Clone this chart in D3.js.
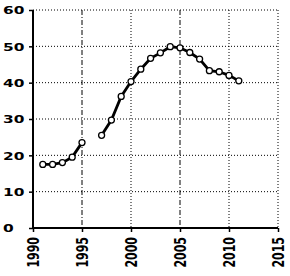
<!DOCTYPE html>
<html>
<head>
<meta charset="utf-8">
<script src="https://cdn.jsdelivr.net/npm/d3@7"></script>
<style>
  body { margin: 0; background: #fff; }
  svg text { font-family: "DejaVu Sans", sans-serif; font-weight: bold; font-size: 11px; fill: #000; }
</style>
</head>
<body>
<script>
const years1 = [1991, 1992, 1993, 1994, 1995];
const values1 = [17.5, 17.5, 18, 19.5, 23.5];
const years2 = [1997, 1998, 1999, 2000, 2001, 2002, 2003, 2004, 2005, 2006, 2007, 2008, 2009, 2010, 2011];
const values2 = [25.5, 29.7, 36.2, 40.3, 43.7, 46.7, 48.2, 49.9, 49.6, 48.3, 46.5, 43.3, 43, 42, 40.5];
const xTicks = [1990, 1995, 2000, 2005, 2010, 2015];
const yTicks = [0, 10, 20, 30, 40, 50, 60];

const w = 290;
const h = 276;

const svg = d3.select("body").append("svg").attr("width", w).attr("height", h);

const x = d3.scaleLinear().domain([1990, 2015]).range([33, 278]);
const y = d3.scaleLinear().domain([0, 60]).range([228, 10]);

// grid
svg.append("g")
  .selectAll("line")
  .data(yTicks.filter((d) => d > 0))
  .enter()
  .append("line")
  .attr("x1", x(1990))
  .attr("x2", x(2015))
  .attr("y1", (d) => y(d))
  .attr("y2", (d) => y(d))
  .attr("stroke", "#000")
  .attr("stroke-width", 1)
  .attr("stroke-dasharray", "1,2");

svg.append("g")
  .selectAll("line")
  .data(xTicks.filter((d) => d > 1990))
  .enter()
  .append("line")
  .attr("x1", (d) => x(d))
  .attr("x2", (d) => x(d))
  .attr("y1", y(60))
  .attr("y2", y(0))
  .attr("stroke", "#000")
  .attr("stroke-width", 1)
  .attr("stroke-dasharray", (d) => (d === 1995 || d === 2005 ? "5,2,1,2" : "1,2"));

// axes
const xAxis = d3.axisBottom(x).tickValues(xTicks).tickSize(4).tickFormat(d3.format("d"));
const yAxis = d3.axisLeft(y).tickValues(yTicks).tickSize(4);

const gx = svg.append("g").attr("transform", `translate(0, ${y(0)})`).call(xAxis);
const gy = svg.append("g").attr("transform", `translate(${x(1990)}, 0)`).call(yAxis);
[gx, gy].forEach((g) => {
  g.attr("font-family", null).attr("font-size", null);
  g.select(".domain").remove();
  g.selectAll(".tick line").attr("stroke", "#000").attr("stroke-width", 1.5);
});
svg.append("line").attr("x1", x(1990)).attr("x2", x(2015)).attr("y1", y(0)).attr("y2", y(0))
  .attr("stroke", "#000").attr("stroke-width", 2);
svg.append("line").attr("x1", x(1990)).attr("x2", x(1990)).attr("y1", y(60)).attr("y2", y(0))
  .attr("stroke", "#000").attr("stroke-width", 2);

// y labels: left aligned, stretched wide
gy.selectAll(".tick text")
  .attr("x", null)
  .attr("dy", null)
  .attr("text-anchor", "start")
  .attr("dominant-baseline", "central")
  .attr("transform", `translate(${3 - x(1990)}, 0) scale(1.4, 1)`);

// x labels: vertical, reading upward
gx.selectAll(".tick text")
  .attr("y", null)
  .attr("dy", null)
  .attr("text-anchor", "end")
  .attr("dominant-baseline", "central")
  .attr("transform", "translate(0, 9) scale(1.4, 1) rotate(-90)");

// series
const line = d3.line().x((d) => x(d[0])).y((d) => y(d[1]));
[[years1, values1], [years2, values2]].forEach(([ys, vs]) => {
  const pts = ys.map((yr, i) => [yr, vs[i]]);
  svg.append("path")
    .datum(pts)
    .attr("d", line)
    .attr("fill", "none")
    .attr("stroke", "#000")
    .attr("stroke-width", 2.8);
  svg.append("g")
    .selectAll("circle")
    .data(pts)
    .enter()
    .append("circle")
    .attr("cx", (d) => x(d[0]))
    .attr("cy", (d) => y(d[1]))
    .attr("r", 3)
    .attr("fill", "#fff")
    .attr("stroke", "#000")
    .attr("stroke-width", 1.3);
});
</script>
</body>
</html>
